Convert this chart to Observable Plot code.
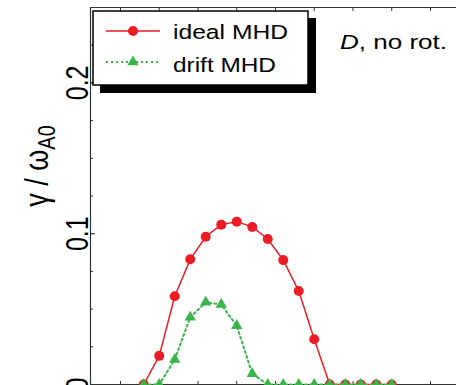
<!DOCTYPE html>
<html><head><meta charset="utf-8">
<script src="https://cdn.jsdelivr.net/npm/d3@7"></script>
<script src="https://cdn.jsdelivr.net/npm/@observablehq/plot@0.6"></script>
<style>body{margin:0;background:#fff;overflow:hidden;} svg{display:block;}</style>
</head><body><div id="chart"></div>
<script>
const xValues = [2.6, 3.0, 3.4, 3.8, 4.2, 4.6, 5.0, 5.4, 5.8, 6.2, 6.6, 7.0, 7.4, 7.8, 8.2, 8.6, 9.0];
const idealMHD = [0, 0.019, 0.0585, 0.083, 0.098, 0.106, 0.108, 0.1045, 0.0965, 0.0825, 0.062, 0.030, 0, 0, 0, 0, 0];
const driftMHD = [0, 0, 0.0166, 0.0446, 0.0545, 0.053, 0.039, 0.0071, 0, 0, 0, 0, 0, 0, 0, 0, 0];
const yTickLabels = [0, 0.1, 0.2];
const yMinorTicks = [0, 0.025, 0.05, 0.075, 0.1, 0.125, 0.15, 0.175, 0.2, 0.225, 0.25];
const xMinorTicks = [2, 3, 4, 5, 6, 7, 8, 9, 10];
const seriesNames = ["ideal MHD", "drift MHD"];
const annotationText = ["D", ", no rot."];
const yLabelMain = "γ / ω";
const yLabelSub = "A0";

const xDomain = [1.226, 10.671];
const yDomain = [0, 0.25];
const RED = "#ed1c24", GREEN = "#39b54a", AX = "#333";
const FONT = "'Liberation Sans', Arial, sans-serif";

const ideal = xValues.map((x, i) => ({x, y: idealMHD[i]}));
const drift = xValues.map((x, i) => ({x, y: driftMHD[i]}));

const plot = Plot.plot({
  width: 456, height: 385,
  marginLeft: 90, marginTop: 7, marginBottom: 1, marginRight: 0,
  x: {domain: xDomain},
  y: {domain: yDomain},
  style: {fontFamily: FONT, background: "#fff", color: "#000"},
  marks: [
    Plot.ruleY([yDomain[0]], {stroke: AX, strokeWidth: 1.2}),
    Plot.ruleY([yDomain[1]], {stroke: AX, strokeWidth: 1.2}),
    Plot.ruleX([xDomain[0]], {stroke: AX, strokeWidth: 1.2}),
    Plot.axisX({anchor: "bottom", ticks: xMinorTicks, tickSize: -3, tickFormat: () => "", label: null, stroke: AX}),
    Plot.axisX({anchor: "top", ticks: xMinorTicks, tickSize: -3, tickFormat: () => "", label: null, stroke: AX}),
    Plot.axisY({anchor: "left", ticks: yMinorTicks, tickSize: -3, tickFormat: () => "", label: null, stroke: AX}),
    Plot.axisY({anchor: "left", ticks: yTickLabels, tickSize: -5, tickFormat: () => "", label: null, stroke: AX}),
    Plot.text(yTickLabels, {y: d => d, text: d => String(d), frameAnchor: "left", dx: -3, rotate: -90,
      textAnchor: "middle", lineAnchor: "bottom", fontSize: 25, fill: "#000"}),
    Plot.line(ideal, {x: "x", y: "y", stroke: RED, strokeWidth: 1.5}),
    Plot.dot(ideal, {x: "x", y: "y", r: 5, fill: RED}),
    Plot.line(drift, {x: "x", y: "y", stroke: GREEN, strokeWidth: 2, strokeDasharray: "2,3"}),
    Plot.dot(drift, {x: "x", y: "y", r: 4.2, symbol: "triangle", fill: GREEN})
  ]
});
document.getElementById("chart").appendChild(plot);

const svg = d3.select(plot);
// stretch rotated tick labels
svg.selectAll("text").filter(function() { return ["0", "0.1", "0.2"].includes(this.textContent); })
  .each(function() {
    const t = this.getAttribute("transform") || "";
    this.setAttribute("transform", t + " scale(1,1.25)");
  });

// y label
const yl = svg.append("text")
  .attr("transform", "translate(48,166) rotate(-90) scale(1,1.2)")
  .attr("text-anchor", "middle")
  .attr("font-family", FONT)
  .attr("font-size", 27).attr("fill", "#000");
yl.append("tspan").text(yLabelMain);
yl.append("tspan").attr("font-size", 20).attr("dy", 6).text(yLabelSub);

// legend
const lg = svg.append("g").attr("font-family", FONT).attr("text-anchor", "start");
lg.append("rect").attr("x", 100).attr("y", 18).attr("width", 216).attr("height", 75).attr("fill", "#000");
lg.append("rect").attr("x", 93).attr("y", 11).attr("width", 215).attr("height", 74)
  .attr("fill", "#fff").attr("stroke", "#000").attr("stroke-width", 1.5);
lg.append("line").attr("x1", 106).attr("x2", 160).attr("y1", 31).attr("y2", 31).attr("stroke", RED).attr("stroke-width", 1.5);
lg.append("circle").attr("cx", 133).attr("cy", 31).attr("r", 5).attr("fill", RED);
lg.append("line").attr("x1", 106).attr("x2", 160).attr("y1", 62).attr("y2", 62).attr("stroke", GREEN)
  .attr("stroke-width", 2).attr("stroke-dasharray", "2,3");
lg.append("path").attr("transform", "translate(133,62)")
  .attr("d", d3.symbol(d3.symbolTriangle, Math.PI * 4.2 * 4.2)()).attr("fill", GREEN);
const legendY = [38.5, 72];
const legendLen = [115, 103];
seriesNames.forEach((name, i) => {
  lg.append("text").attr("x", 173).attr("y", legendY[i]).attr("font-size", 20.5).attr("fill", "#000")
    .attr("text-anchor", "start")
    .attr("textLength", legendLen[i]).attr("lengthAdjust", "spacingAndGlyphs").text(name);
});
const ann = svg.append("text").attr("x", 340).attr("y", 49).attr("font-size", 20.5).attr("fill", "#000")
  .attr("font-family", FONT).attr("text-anchor", "start")
  .attr("textLength", 107).attr("lengthAdjust", "spacingAndGlyphs");
ann.append("tspan").attr("font-style", "italic").text(annotationText[0]);
ann.append("tspan").text(annotationText[1]);
</script>
</body></html>
